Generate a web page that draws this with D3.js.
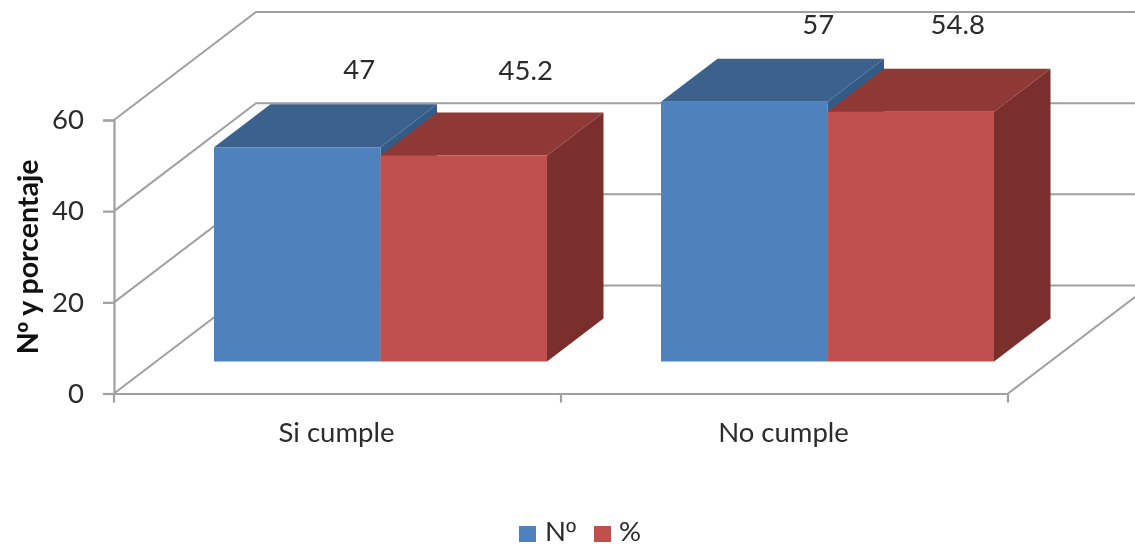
<!DOCTYPE html>
<html><head><meta charset="utf-8">
<style>html,body{margin:0;padding:0;background:#fff;overflow:hidden}svg{display:block;filter:blur(0.45px)}text{font-family:Lato,"Open Sans",sans-serif;fill:#2b2b2b}.ord{font-family:"Liberation Sans",sans-serif}</style>
<script src="https://cdn.jsdelivr.net/npm/d3@7"></script></head><body><svg id="c" width="1135" height="547"></svg>
<script>
const categories = ["Si cumple","No cumple"];
const seriesNames = ["Nº","%"];
const valuesCount = [47,57];
const valuesPercent = [45.2,54.8];
const yTicks = [0,20,40,60];
const seriesColors = ["#4f81bd","#c0504d"];
const topColors = ["#3d618d","#8f3937"];
const sideColors = ["#345a86","#7b2f2d"];
const labelNudgeX = [[62,62],[74,47]];
const labelNudgeY = [[-68,-75],[-68,-78]];

const W=1135,H=547,svg=d3.select("#c");
const plotLeft=114,plotRight=1008,plotBase=393.5,plotTop=120;
const wallDx=142,wallDy=-108;
const depthDx=56.5,depthDy=-43;
const barFloorDy=-32,barFloorDx=43;
const fontSize=27.5;
const y=d3.scaleLinear().domain([0,60]).range([plotBase,plotTop]);
const x=d3.scaleBand().domain(categories).range([plotLeft,plotRight]);
const xs=d3.scaleBand().domain(seriesNames).range([-166.5,166.5]);
const grey="#a0a0a0";
const line=d3.line();

// walls and floor
const g=svg.append("g").attr("fill","none").attr("stroke",grey).attr("stroke-width",2);
g.selectAll("path.grid").data(yTicks).join("path").attr("class","grid")
 .attr("d",t=>line([[plotLeft,y(t)],[plotLeft+wallDx,y(t)+wallDy],[W+20,y(t)+wallDy]]));
g.append("path").attr("d",line([[plotRight,plotBase],[plotRight+wallDx,plotBase+wallDy]]));

// axes
const ay=svg.append("g").attr("transform",`translate(${plotLeft},0)`).call(d3.axisLeft(y).tickValues(yTicks).tickSize(11).tickPadding(19));
ay.selectAll("text").attr("font-size",fontSize).attr("font-family","Lato").style("fill","#2b2b2b");
const ax=svg.append("g").attr("transform",`translate(0,${plotBase})`).call(d3.axisBottom(x).tickValues([]).tickSize(0));
ax.selectAll("line.tk").data([plotLeft,(plotLeft+plotRight)/2,plotRight]).join("line").attr("class","tk").attr("x1",d=>d).attr("x2",d=>d).attr("y1",0).attr("y2",9);
svg.selectAll(".domain").attr("stroke",grey).attr("stroke-width",2.2);
ay.selectAll("line").attr("stroke",grey).attr("stroke-width",2.2);
ax.selectAll("line").attr("stroke",grey).attr("stroke-width",2.2);

// category labels
svg.selectAll("text.cat").data(categories).join("text").attr("class","cat")
 .attr("x",d=>x(d)+x.bandwidth()/2-1).attr("y",442).attr("text-anchor","middle").attr("font-size",fontSize).text(d=>d);

// bars
const rows=categories.flatMap((c,i)=>[valuesCount[i],valuesPercent[i]].map((v,s)=>({c,i,s,v})));
const bx=d=>x(d.c)+x.bandwidth()/2+barFloorDx+xs(seriesNames[d.s]);
const by=d=>y(d.v)+barFloorDy;
const by0=y(0)+barFloorDy;
const w=xs.bandwidth();
const bars=svg.selectAll("g.bar").data(rows).join("g").attr("class","bar");
bars.append("path").attr("fill",d=>sideColors[d.s])
 .attr("d",d=>line([[bx(d)+w,by(d)],[bx(d)+w+depthDx,by(d)+depthDy],[bx(d)+w+depthDx,by0+depthDy],[bx(d)+w,by0]])+"Z");
bars.append("path").attr("fill",d=>topColors[d.s])
 .attr("d",d=>line([[bx(d),by(d)],[bx(d)+depthDx,by(d)+depthDy],[bx(d)+w+depthDx,by(d)+depthDy],[bx(d)+w,by(d)]])+"Z");
bars.append("rect").attr("fill",d=>seriesColors[d.s])
 .attr("x",bx).attr("y",by).attr("width",w).attr("height",d=>by0-by(d));

// value labels
svg.selectAll("text.val").data(rows).join("text").attr("class","val")
 .attr("x",d=>bx(d)+w/2+labelNudgeX[d.i][d.s]).attr("y",d=>by(d)+labelNudgeY[d.i][d.s])
 .attr("text-anchor","middle").attr("font-size",fontSize).text(d=>d.v);

// y title
const title=svg.append("text").attr("transform","translate(38,257) rotate(-90)").attr("text-anchor","middle")
 .attr("font-size",28.5).attr("font-weight",700).style("fill","#111");
title.append("tspan").text("N");
title.append("tspan").attr("class","ord").text("º");
title.append("tspan").text(" y porcentaje");

// legend
const lx=[519,594], ltx=[545,619];
const lg=svg.selectAll("g.lg").data(seriesNames).join("g").attr("class","lg");
lg.append("rect").attr("x",(d,i)=>lx[i]).attr("y",526).attr("width",17).attr("height",16).attr("fill",(d,i)=>seriesColors[i]);
const lt=lg.append("text").attr("x",(d,i)=>ltx[i]).attr("y",541).attr("font-size",fontSize);
lt.append("tspan").text(d=>d[0]);
lt.append("tspan").attr("class","ord").text(d=>d.slice(1));
</script></body></html>
